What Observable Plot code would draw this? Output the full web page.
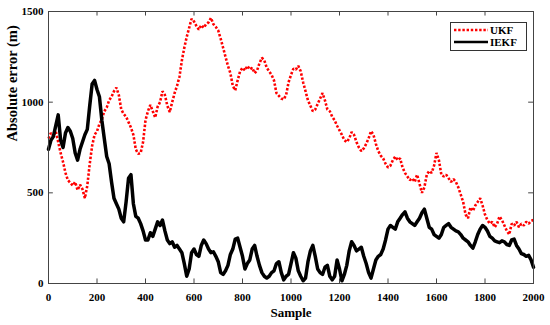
<!DOCTYPE html>
<html>
<head>
<meta charset="utf-8">
<script src="https://cdn.jsdelivr.net/npm/d3@7"></script>
<script src="https://cdn.jsdelivr.net/npm/@observablehq/plot@0.6"></script>
<style>
  body { margin: 0; background: #fff; }
  #wrap { position: relative; width: 550px; height: 325px; font-family: "Liberation Serif", "Times New Roman", serif; }
  #wrap svg text { font-family: "Liberation Serif", "Times New Roman", serif; font-weight: bold; }
  #legend { position: absolute; left: 450px; top: 22px; width: 75px; height: 27px; border: 1px solid #333; background: #fff; font-weight: bold; font-size: 11px; }
  .row { position: absolute; left: 3px; height: 12px; display: flex; align-items: center; }
  .row span { margin-left: 2px; color: #000; }
</style>
</head>
<body>
<div id="wrap"></div>
<script>
// Sample index (every 10 samples, 0..2000)
const samples = d3.range(0, 2001, 10);

// UKF absolute error (m)
const ukf = [
  800, 830, 810, 840, 780, 720, 670, 610, 570, 555,
  540, 560, 515, 545, 520, 470, 540, 660, 760, 820,
  840, 880, 905, 950, 970, 1010, 1030, 1060, 1080, 1040,
  960, 935, 920, 890, 860, 820, 740, 715, 720, 780,
  900, 950, 985, 950, 915, 975, 1000, 1060, 1040, 980,
  945, 1000, 1050, 1090, 1140, 1230, 1300, 1360, 1410, 1460,
  1445, 1420, 1400, 1425, 1410, 1430, 1440, 1465, 1430, 1415,
  1395, 1350, 1300, 1250, 1200, 1160, 1090, 1065, 1120, 1170,
  1190, 1175, 1200, 1180, 1190, 1160, 1175, 1215, 1245, 1230,
  1190, 1170, 1150, 1120, 1050, 1035, 1020, 1015, 1040, 1110,
  1150, 1185, 1180, 1200, 1170, 1110, 1060, 1010, 980, 950,
  960, 990, 1020, 1050, 1010, 960, 950, 920, 900, 870,
  845, 820, 790, 780, 800, 835, 820, 780, 750, 730,
  745, 770, 800, 840, 820, 770, 730, 705, 690, 660,
  640, 650, 680, 700, 680, 690, 640, 610, 590, 570,
  580, 560, 600, 550, 500, 530, 600, 620, 610, 650,
  720, 680, 600, 590, 600, 580, 560, 575, 560, 530,
  490, 450, 380, 360, 420, 400, 430, 450, 470, 430,
  380, 350, 330, 340, 310, 330, 370, 350, 320, 290,
  270, 330, 320, 340, 310, 330, 320, 340, 330, 345,
  350
];

// IEKF absolute error (m)
const iekf = [
  740, 790, 810, 870, 930, 790, 750, 830, 860, 840,
  800, 720, 680, 740, 780, 820, 850, 980, 1100, 1120,
  1070, 1030, 900, 800, 700, 660, 560, 470, 440, 410,
  360, 340, 450, 580, 600, 440, 370, 360, 330, 290,
  240, 240, 280, 260, 300, 340, 320, 350, 290, 240,
  220, 230, 200, 210, 190, 170, 110, 40, 80, 170,
  190, 160, 150, 210, 240, 220, 190, 170, 175, 150,
  120, 60, 50, 70, 100, 160, 190, 245, 250, 200,
  150, 80, 110, 130, 190, 210, 150, 100, 60, 40,
  30, 40, 60, 70, 110, 120, 60, 20, 40, 50,
  110, 170, 140, 70, 40, 15, 30, 120, 180, 210,
  150, 80, 60, 50, 90, 100, 40, 20, 40, 130,
  80, 15, 50, 100, 180, 230, 210, 180, 190, 200,
  150, 110, 60, 30, 80, 130, 150, 160, 190, 240,
  300, 320, 310, 300, 340, 360, 380, 395, 360, 340,
  330, 320, 340, 360, 390, 410, 360, 310, 300, 270,
  260, 250, 270, 310, 320, 330, 310, 300, 290, 285,
  270, 250, 240, 230, 210, 195, 230, 270, 300, 320,
  310, 290, 260, 250, 235, 230, 225, 235, 230, 215,
  210, 240, 245, 210, 190, 165, 160, 150, 155, 130,
  90
];

const xTicks = [0, 200, 400, 600, 800, 1000, 1200, 1400, 1600, 1800, 2000];
const yTicks = [0, 500, 1000, 1500];

const ukfData = samples.map((s, i) => ({s, v: ukf[i]}));
const iekfData = samples.map((s, i) => ({s, v: iekf[i]}));

const font = "'Liberation Serif', 'Times New Roman', serif";
const fmt = d => String(d);

const chart = Plot.plot({
  width: 550,
  height: 325,
  marginLeft: 48,
  marginRight: 17,
  marginTop: 11,
  marginBottom: 42,
  style: {fontFamily: font, fontWeight: "bold", fontSize: "11px", background: "#fff", color: "#000"},
  x: {domain: [0, 2000]},
  y: {domain: [0, 1500]},
  marks: [
    Plot.axisX(xTicks, {tickSize: 0, tickPadding: 10, label: null, tickFormat: fmt, fontSize: 11, fontWeight: "bold", fontFamily: font}),
    Plot.axisY(yTicks, {tickSize: 0, tickPadding: 5, label: null, tickFormat: fmt, fontSize: 11, fontWeight: "bold", fontFamily: font}),
    Plot.ruleX(xTicks, {x: d => d, y1: 0, y2: 25, stroke: "#444", strokeWidth: 1}),
    Plot.ruleX(xTicks, {x: d => d, y1: 1475, y2: 1500, stroke: "#444", strokeWidth: 1}),
    Plot.ruleY(yTicks, {y: d => d, x1: 0, x2: 20, stroke: "#444", strokeWidth: 1}),
    Plot.ruleY(yTicks, {y: d => d, x1: 1980, x2: 2000, stroke: "#444", strokeWidth: 1}),
    Plot.line(ukfData, {x: "s", y: "v", stroke: "#ff0000", strokeWidth: 2.6, strokeDasharray: "2.4,1.8", strokeLinecap: "butt", strokeLinejoin: "miter"}),
    Plot.line(iekfData, {x: "s", y: "v", stroke: "#000", strokeWidth: 3.5, strokeLinejoin: "round"}),
    Plot.frame({stroke: "#444", strokeWidth: 1}),
    Plot.text(["Sample"], {frameAnchor: "bottom", dy: 33, text: d => d, fontSize: 13, fontWeight: "bold", fontFamily: font}),
    Plot.text(["Absolute error (m)"], {frameAnchor: "left", dx: -36, dy: -6, rotate: -90, text: d => d, fontSize: 14.5, fontWeight: "bold", fontFamily: font})
  ]
});

const wrap = document.getElementById("wrap");
wrap.appendChild(chart);

const legend = document.createElement("div");
legend.id = "legend";
legend.innerHTML = `
  <div class="row" style="top:1px"><svg width="34" height="6"><line x1="0" y1="3" x2="34" y2="3" stroke="#ff0000" stroke-width="2.4" stroke-dasharray="2.4,1.8"/></svg><span>UKF</span></div>
  <div class="row" style="top:13px"><svg width="34" height="6"><line x1="0" y1="3" x2="34" y2="3" stroke="#000" stroke-width="2.6"/></svg><span>IEKF</span></div>`;
wrap.appendChild(legend);
</script>
</body>
</html>
